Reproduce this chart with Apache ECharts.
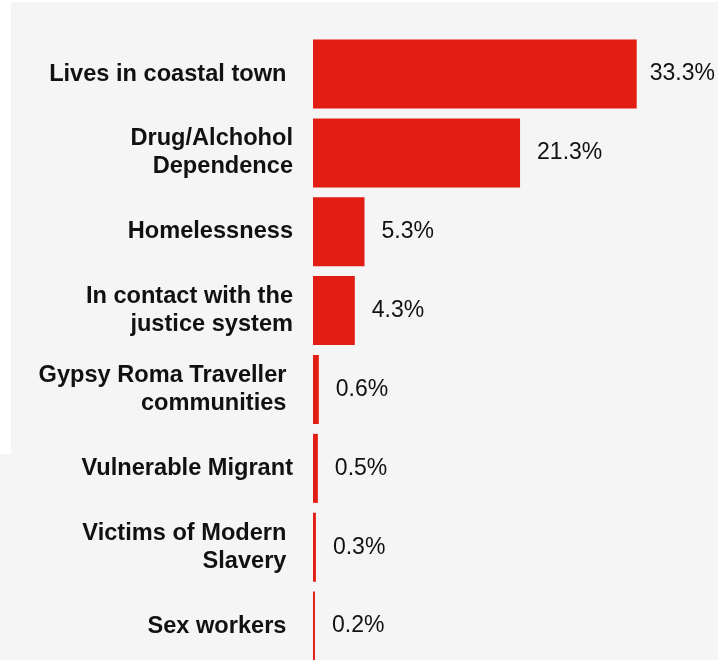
<!DOCTYPE html>
<html>
<head>
<meta charset="utf-8">
<script src="https://cdn.jsdelivr.net/npm/echarts@6/dist/echarts.min.js"></script>
<style>html,body{margin:0;padding:0;background:#fff;overflow:hidden}#c{width:718px;height:666px}</style>
</head>
<body>
<div id="c"></div>
<script>
const categories = [
  "Lives in coastal town ",
  "Drug/Alchohol\nDependence",
  "Homelessness",
  "In contact with the\njustice system",
  "Gypsy Roma Traveller \ncommunities ",
  "Vulnerable Migrant",
  "Victims of Modern \nSlavery ",
  "Sex workers "
];
const values = [33.3, 21.3, 5.3, 4.3, 0.6, 0.5, 0.3, 0.2];

const chart = echarts.init(document.getElementById('c'), null, {renderer: 'canvas'});
const seriesData = values.map((v, i) => i === 0
  ? {value: v, label: {distance: 13}}
  : {value: v});

chart.setOption({
  backgroundColor: '#ffffff',
  animation: false,
  graphic: [
    {type: 'rect', z: -10, silent: true, shape: {x: 11, y: 2, width: 707, height: 664}, style: {fill: '#f5f5f5'}},
    {type: 'rect', z: -10, silent: true, shape: {x: 0, y: 454, width: 11, height: 212}, style: {fill: '#f5f5f5'}}
  ],
  grid: {left: 313, top: 34.6, height: 630.9, width: 323.7, containLabel: false},
  xAxis: {type: 'value', min: 0, max: 33.3, show: false},
  yAxis: {
    type: 'category',
    data: categories,
    inverse: true,
    axisLine: {show: false},
    axisTick: {show: false},
    axisLabel: {
      margin: 20,
      color: '#111111',
      fontFamily: '"Liberation Sans", Arial, sans-serif',
      fontWeight: 'bold',
      fontSize: 23.6,
      lineHeight: 28,
      align: 'right'
    }
  },
  series: [{
    type: 'bar',
    data: seriesData,
    barWidth: 69,
    itemStyle: {color: '#e21d13'},
    label: {
      show: true,
      position: 'right',
      distance: 17,
      color: '#111111',
      fontFamily: '"Liberation Sans", Arial, sans-serif',
      fontSize: 23,
      formatter: p => p.value.toFixed(1) + '%'
    }
  }]
});
</script>
</body>
</html>
